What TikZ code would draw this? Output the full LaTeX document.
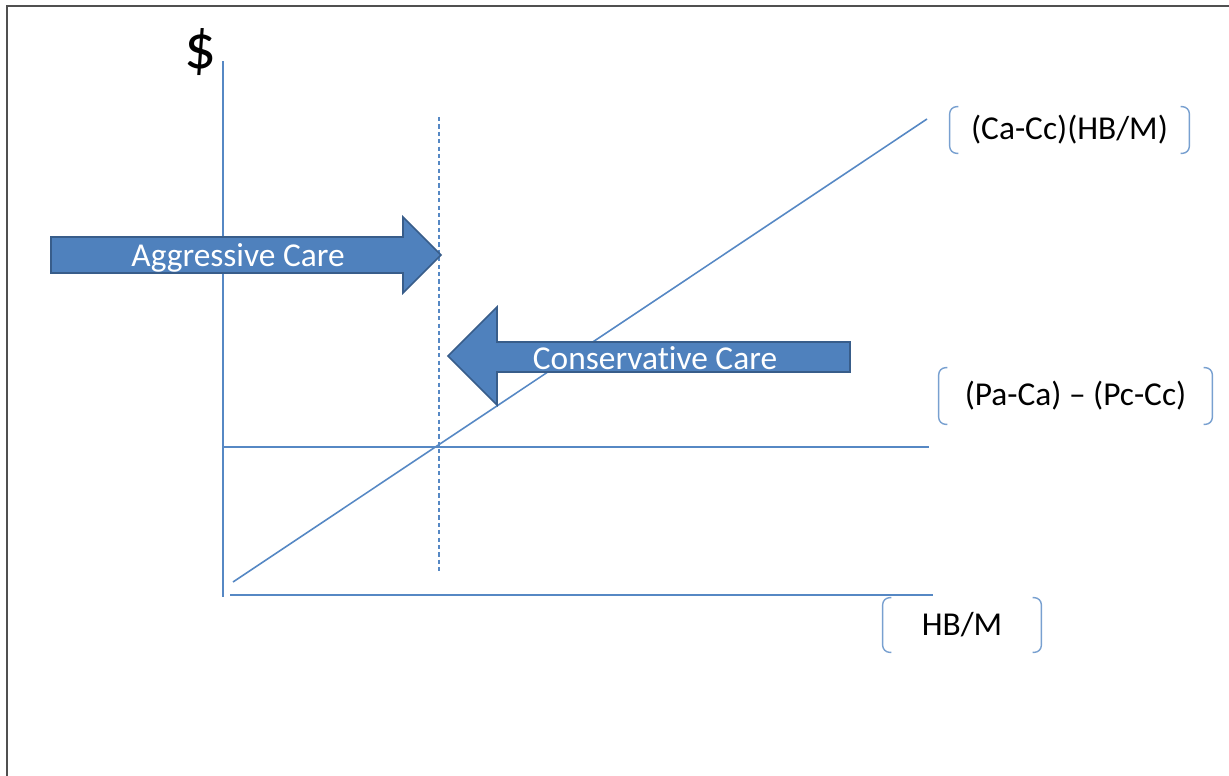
\documentclass[tikz,border=0pt]{standalone}
\usepackage{fontspec}
\setmainfont[Ligatures={NoCommon}]{Carlito}
\definecolor{lnblue}{RGB}{86,136,196}
\definecolor{arrfill}{RGB}{79,129,189}
\definecolor{arrdraw}{RGB}{56,93,138}
\definecolor{framegray}{RGB}{80,80,80}
\tikzset{
  axisline/.style={draw=lnblue, line width=0.9pt},
  dashline/.style={draw=lnblue, line width=0.8pt, dash pattern=on 2.4pt off 1.8pt},
  bigarrow/.style={fill=arrfill, draw=arrdraw, line width=0.9pt, line join=miter},
  arrowtext/.style={text=white, font=\fontsize{19}{22}\selectfont, inner sep=0pt},
  labeltext/.style={text=black, font=\fontsize{19}{22}\selectfont, inner sep=0pt},
  bracketline/.style={draw=lnblue!80, line width=0.8pt, rounded corners=4pt},
}
\begin{document}
\begin{tikzpicture}[x=0.02cm, y=-0.02cm]
\useasboundingbox (0,0) rectangle (1229,775);
% frame
\draw[framegray, line width=1.2pt] (1240,6) -- (7,6) -- (7,790);
% coordinates
\coordinate (yTop) at (223,61);
\coordinate (yBot) at (223,597);
\coordinate (xL) at (230,595);
\coordinate (xR) at (933,595);
\coordinate (hL) at (223,447);
\coordinate (hR) at (929,447);
\coordinate (dL) at (233,582);
\coordinate (dR) at (927,119);
\coordinate (vT) at (439,117);
\coordinate (vB) at (439,572);
% dollar
\node[labeltext, font=\fontsize{36}{40}\selectfont] (dollar) at (201,52) {\$};
% axes and lines
\draw[axisline] (yTop) -- (yBot);
\draw[axisline] (xL) -- (xR);
\draw[axisline] (hL) -- (hR);
\draw[axisline] (dL) -- (dR);
\draw[dashline] (vT) -- (vB);
% aggressive arrow
\draw[bigarrow] (51,237) -- (403,237) -- (403,217) -- (441,255) -- (403,293) -- (403,273) -- (51,273) -- cycle;
\node[arrowtext] (aggr) at (238,258) {Aggressive Care};
% conservative arrow
\draw[bigarrow] (850,342) -- (497,342) -- (497,307) -- (448,356) -- (497,405) -- (497,372) -- (850,372) -- cycle;
\node[arrowtext] (cons) at (655,358) {Conservative Care};
% labels with bracket pairs
\node[labeltext, minimum width=4.78cm, minimum height=0.92cm] (lab1) at (1069.5,130) {(Ca-Cc)(HB/M)};
\node[labeltext, minimum width=5.46cm, minimum height=1.12cm] (lab2) at (1075.5,396) {(Pa-Ca) – (Pc-Cc)};
\node[labeltext, minimum width=3.16cm, minimum height=1.08cm] (lab3) at (962,625) {HB/M};
\foreach \n in {lab1,lab2,lab3}{
  \draw[bracketline] ([xshift=5pt]\n.north west) -- (\n.north west) -- (\n.south west) -- ([xshift=5pt]\n.south west);
  \draw[bracketline] ([xshift=-5pt]\n.north east) -- (\n.north east) -- (\n.south east) -- ([xshift=-5pt]\n.south east);
}
\end{tikzpicture}
\end{document}
